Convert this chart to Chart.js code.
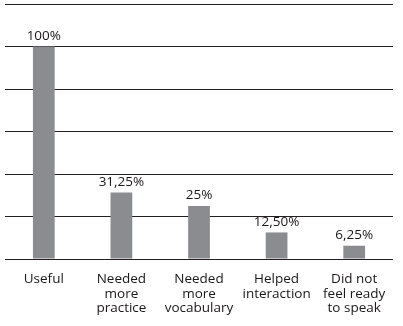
<!DOCTYPE html>
<html lang="en">
<head>
  <meta charset="utf-8">
  <title>Survey responses</title>
  <script src="https://cdn.jsdelivr.net/npm/chart.js@4/dist/chart.umd.min.js"></script>
  <style type="text/css">
    html, body { margin: 0; padding: 0; background: #fff; }
    .chart-container { position: relative; width: 403px; height: 326px; }
  </style>
</head>
<body>
  <div class="chart-container">
    <canvas id="surveyChart"></canvas>
  </div>
  <script>
    var categories = [
      ['Useful'],
      ['Needed', 'more', 'practice'],
      ['Needed', 'more', 'vocabulary'],
      ['Helped', 'interaction'],
      ['Did not', 'feel ready', 'to speak']
    ];
    var percentValues = [100, 31.25, 25, 12.5, 6.25];
    var valueLabels = ['100%', '31,25%', '25%', '12,50%', '6,25%'];
    var yTicks = [0, 20, 40, 60, 80, 100, 120];

    var fontFamily = '"Open Sans", "Noto Sans", sans-serif';

    // draws the percent text above each bar
    var valueLabelPlugin = {
      id: 'valueLabels',
      afterDatasetsDraw: function(chart) {
        var ctx = chart.ctx;
        var meta = chart.getDatasetMeta(0);
        ctx.save();
        ctx.font = '13.5px ' + fontFamily;
        ctx.fillStyle = '#1a1718';
        ctx.textAlign = 'center';
        ctx.textBaseline = 'bottom';
        meta.data.forEach(function(bar, i) {
          ctx.fillText(valueLabels[i], bar.x, bar.y - 4);
        });
        ctx.restore();
      }
    };

    new Chart(document.getElementById('surveyChart').getContext('2d'), {
      type: 'bar',
      plugins: [valueLabelPlugin],
      data: {
        labels: categories,
        datasets: [{
          data: percentValues,
          backgroundColor: '#8b8c90',
          borderWidth: 0,
          barPercentage: 0.28,
          categoryPercentage: 1
        }]
      },
      options: {
        responsive: true,
        maintainAspectRatio: false,
        animation: false,
        layout: { padding: { left: 5, right: 10, top: 4, bottom: 0 } },
        plugins: {
          legend: { display: false },
          tooltip: { enabled: false }
        },
        scales: {
          x: {
            grid: { display: false },
            border: { display: false },
            ticks: {
              color: '#1a1718',
              font: { family: fontFamily, size: 13.5, lineHeight: 1.08 },
              padding: 5,
              maxRotation: 0,
              autoSkip: false
            },
            afterFit: function(scale) { scale.height = 67; }
          },
          y: {
            min: 0,
            max: 120,
            afterBuildTicks: function(scale) {
              scale.ticks = yTicks.map(function(v) { return { value: v }; });
            },
            ticks: { display: false },
            grid: { color: '#231f20', lineWidth: 1, drawTicks: false },
            border: { display: false },
            afterFit: function(scale) { scale.width = 0; }
          }
        }
      }
    });
  </script>
</body>
</html>
